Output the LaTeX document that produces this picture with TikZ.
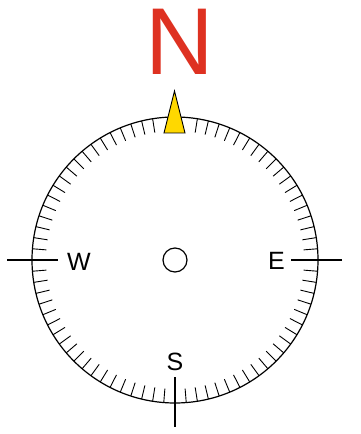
\documentclass[tikz,border=0pt]{standalone}
\usepackage{fontspec}
\setmainfont{Liberation Sans}
\usetikzlibrary{calc}
\definecolor{nred}{RGB}{222,49,33}
\definecolor{nyellow}{RGB}{255,216,0}
\begin{document}
\begin{tikzpicture}[x=1pt,y=1pt,
  ring/.style={line width=1.2pt},
  tick/.style={line width=0.9pt},
  crossline/.style={line width=1.2pt},
  letter/.style={inner sep=0pt,font=\fontsize{25}{25}\selectfont},
  north/.style={inner sep=0pt,text=nred,font=\fontsize{95}{95}\selectfont},
  needle/.style={fill=nyellow,draw=black,line width=0.9pt,line join=miter}]
\useasboundingbox (0,0) rectangle (361,434);
\coordinate (C) at (175,174);
% outer ring
\draw[ring] (C) circle[radius=143];
% ticks every 4.5 degrees
\foreach \i in {2,...,78}{
  \pgfmathsetmacro{\a}{90-\i*4.5}
  \draw[tick,shift={(C)}] (\a:129) -- (\a:143);
}
% cardinal lines
\coordinate (Wout) at ($(C)+(-168,0)$);
\coordinate (Win)  at ($(C)+(-117,0)$);
\coordinate (Eout) at ($(C)+(167,0)$);
\coordinate (Ein)  at ($(C)+(116,0)$);
\coordinate (Sout) at ($(C)+(0,-167)$);
\coordinate (Sin)  at ($(C)+(0,-117)$);
\draw[crossline] (Wout) -- (Win);
\draw[crossline] (Eout) -- (Ein);
\draw[crossline] (Sout) -- (Sin);
% centre pin
\node[draw,circle,line width=1.2pt,minimum size=24pt,inner sep=0pt] (pin) at (C) {};
% needle
\coordinate (tip) at (174.5,343);
\coordinate (bl) at (164,301);
\coordinate (br) at (185,301);
\draw[needle] (tip) -- (br) -- (bl) -- cycle;
% letters
\node[north] (N) at (179.7,392.5) {N};
\node[letter] (W) at (79,172) {W};
\node[letter] (E) at (276.5,173.5) {E};
\node[letter] (S) at (175,72) {S};
\end{tikzpicture}
\end{document}
